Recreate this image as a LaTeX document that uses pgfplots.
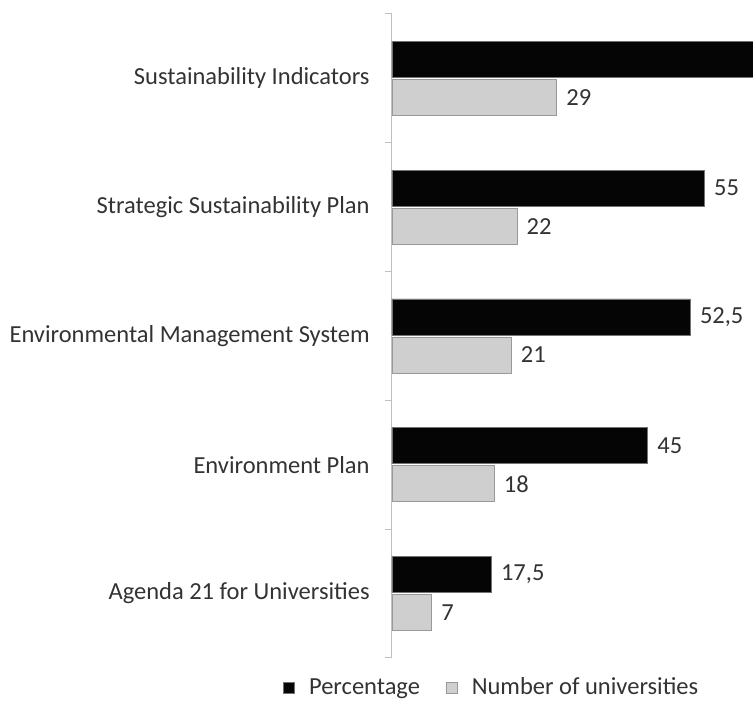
\documentclass[border=0pt]{standalone}
\usepackage{fontspec}
\setmainfont{Carlito}
\usepackage{pgfplots}
\pgfplotsset{compat=1.18}

\definecolor{txt}{HTML}{333333}
\definecolor{barblack}{HTML}{050505}
\definecolor{bargray}{HTML}{CFCFCF}
\definecolor{axgray}{HTML}{BFBFBF}

\begin{document}
\fontsize{24.5}{29}\selectfont
\begin{tikzpicture}
\begin{axis}[
  scale only axis,
  width=361pt, height=644pt,
  xbar, bar width=36pt,
  xmin=0, xmax=63.5,
  ymin=-0.5, ymax=4.5,
  hide x axis,
  axis y line*=left,
  y axis line style={axgray, line width=1pt},
  ytick={0,...,4},
  yticklabels={Agenda 21 for Universities, Environment Plan, Environmental Management System, Strategic Sustainability Plan, Sustainability Indicators},
  major tick length=0pt,
  minor ytick={-0.5,0.5,...,4.5},
  minor tick length=7pt,
  tick align=outside,
  minor tick style={axgray, line width=1pt},
  yticklabel style={font=\fontsize{24.5}{29}\selectfont, text=txt, xshift=-14pt},
  point meta=explicit symbolic,
  nodes near coords,
  nodes near coords style={font=\fontsize{24.5}{29}\selectfont, text=txt, anchor=west, xshift=1pt},
  legend columns=2,
  legend image code/.code={\fill[#1] (0pt,-5pt) rectangle (11pt,6pt);},
  legend style={at={(axis description cs:-0.31,-0.024)}, anchor=north west,
    draw=none, fill=none, font=\fontsize{24.5}{29}\selectfont, text=txt,
    /tikz/every odd column/.append style={column sep=12pt},
    /tikz/every even column/.append style={column sep=24pt}},
]
\coordinate (O) at (rel axis cs:0,0);

\addplot[fill=barblack, draw=black!55, line width=0.8pt, bar shift=19pt]
  coordinates {(17.5,0) [{17,5}] (45,1) [45] (52.5,2) [{52,5}] (55,3) [55] (72.5,4) [{}]};
\addlegendentry{Percentage}

\addplot[fill=bargray, draw=black!40, line width=0.8pt, bar shift=-19pt]
  coordinates {(7,0) [7] (18,1) [18] (21,2) [21] (22,3) [22] (29,4) [29]};
\addlegendentry{Number of universities}

\end{axis}
\pgfresetboundingbox
\path[use as bounding box] (O) ++(-392pt,-43pt) rectangle ++(753pt,701pt);
\end{tikzpicture}
\end{document}
